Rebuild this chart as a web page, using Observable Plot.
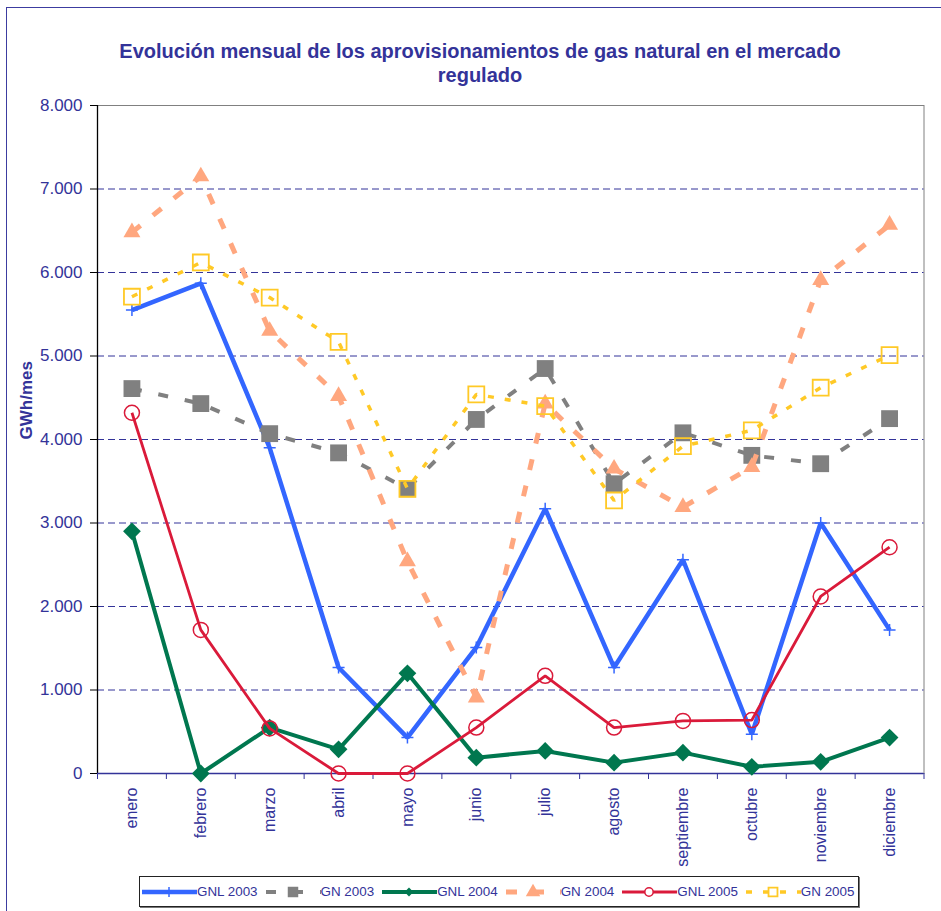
<!DOCTYPE html>
<html>
<head>
<meta charset="utf-8">
<script src="https://cdn.jsdelivr.net/npm/d3@7"></script>
<script src="https://cdn.jsdelivr.net/npm/@observablehq/plot@0.6"></script>
<style>
html, body { margin: 0; padding: 0; background: #fff; overflow: hidden; }
#wrap { position: relative; width: 941px; height: 911px; overflow: hidden; font-family: Arial, "Liberation Sans", sans-serif; background: #fff; }
#border { position: absolute; left: 6px; top: 7px; width: 1000px; height: 1000px; border-left: 1.5px solid #3c3ca0; border-top: 1.5px solid #3c3ca0; }
#title { position: absolute; left: 0; top: 39px; width: 960px; text-align: center; font-weight: bold; font-size: 20px; line-height: 24px; color: #333399; }
#chart { position: absolute; left: 0; top: 0; }
#legend { position: absolute; left: 139px; top: 876px; width: 720px; height: 31px; box-sizing: border-box; border: 1px solid #222; box-shadow: 1px 1px 0 #777; display: flex; align-items: center; padding-left: 2px; gap: 8px; }
.item { display: flex; align-items: center; font-size: 13.4px; color: #333399; white-space: nowrap; }
.item svg { display: block; }
</style>
</head>
<body>
<div id="wrap">
  <div id="border"></div>
  <div id="chart"></div>
  <div id="title">Evolución mensual de los aprovisionamientos de gas natural en el mercado<br>regulado</div>
  <div id="legend"></div>
</div>
<script>
// ---- data ----
const months = ["enero", "febrero", "marzo", "abril", "mayo", "junio", "julio", "agosto", "septiembre", "octubre", "noviembre", "diciembre"];
const yTicks = [0, 1000, 2000, 3000, 4000, 5000, 6000, 7000, 8000];
const seriesNames = ["GNL 2003", "GN 2003", "GNL 2004", "GN 2004", "GNL 2005", "GN 2005"];
const gnl2003 = [5550, 5870, 3900, 1270, 430, 1510, 3170, 1270, 2560, 470, 3000, 1720];
const gn2003  = [4610, 4430, 4070, 3840, 3410, 4240, 4850, 3470, 4080, 3810, 3710, 4250];
const gnl2004 = [2900, 0, 550, 290, 1200, 190, 270, 130, 250, 80, 140, 430];
const gn2004  = [6480, 7150, 5300, 4520, 2540, 910, 4430, 3650, 3190, 3670, 5910, 6570];
const gnl2005 = [4320, 1720, 540, 0, 0, 550, 1170, 550, 630, 640, 2120, 2710];
const gn2005  = [5710, 6120, 5700, 5170, 3410, 4540, 4400, 3270, 3920, 4110, 4620, 5010];

// ---- styles ----
const navy = "#333399";
const plusSymbol = { draw(ctx, size) { const r = Math.sqrt(size / Math.PI); ctx.moveTo(-r, 0); ctx.lineTo(r, 0); ctx.moveTo(0, -r); ctx.lineTo(0, r); } };
const styles = [
  { values: gnl2003, color: "#3366FF", width: 4.5, dash: null, symbol: plusSymbol, r: 6, filled: false, sw: 1.5, legSym: "plus" },
  { values: gn2003,  color: "#808080", width: 4, dash: "10,17", symbol: "square", r: 9.5, filled: true, sw: 0, legSym: d3.symbolSquare, legSize: 110 },
  { values: gnl2004, color: "#00774F", width: 4, dash: null, symbol: "diamond2", r: 8, filled: true, sw: 0, legSym: d3.symbolDiamond2, legSize: 50 },
  { values: gn2004,  color: "#FFA77F", width: 5, dash: "11,16", symbol: "triangle", r: 6.3, filled: true, sw: 0, legSym: d3.symbolTriangle, legSize: 90 },
  { values: gnl2005, color: "#DA1A3A", width: 2.8, dash: null, symbol: "circle", r: 7.5, filled: false, sw: 1.5, legSym: d3.symbolCircle, legSize: 55 },
  { values: gn2005,  color: "#FFC926", width: 3.5, dash: "6,11", symbol: "square", r: 9, filled: false, sw: 1.8, legSym: d3.symbolSquare, legSize: 80 }
];

const rows = months.map((m, i) => {
  const o = { i, month: m };
  styles.forEach((s, k) => { o["s" + k] = s.values[i]; });
  return o;
});

const loc = d3.formatLocale({ decimal: ",", thousands: ".", grouping: [3], currency: ["", "€"] });
const fmt = loc.format(",");
const xDomain = [-0.5, months.length - 0.5];
const idx = months.map((_, i) => i);
const bounds = months.map((_, i) => i - 0.5).concat([months.length - 0.5]);
const gridVals = yTicks.filter(v => v > yTicks[0] && v < yTicks[yTicks.length - 1]);

const marks = [
  Plot.frame({ stroke: "#808080", strokeWidth: 1 }),
  Plot.ruleY(gridVals, { stroke: navy, strokeWidth: 1, strokeDasharray: "7,4" }),
  Plot.ruleX([xDomain[0]], { stroke: "black", strokeWidth: 1.3 }),
  Plot.ruleY([yTicks[0]], { stroke: navy, strokeWidth: 1.5 }),
  Plot.axisY(yTicks, { anchor: "left", tickSize: 7, tickPadding: 8, tickFormat: fmt, fontSize: 17, fill: navy, stroke: "black", label: null }),
  Plot.axisX(idx, { anchor: "bottom", tickSize: 0, tickPadding: 14, tickRotate: -90, tickFormat: i => months[i], fontSize: 16, fill: navy, label: null }),
  Plot.axisX(bounds, { anchor: "bottom", tickSize: 6, tickFormat: () => "", stroke: navy, label: null }),
  Plot.text(["GWh/mes"], { frameAnchor: "left", dx: -71, rotate: -90, fontWeight: "bold", fontSize: 17, fill: navy })
];

styles.forEach((s, k) => {
  marks.push(Plot.line(rows, { x: "i", y: "s" + k, stroke: s.color, strokeWidth: s.width, strokeDasharray: s.dash, strokeLinecap: "butt", strokeLinejoin: "miter" }));
  marks.push(Plot.dot(rows, {
    x: "i", y: "s" + k, symbol: s.symbol, r: s.r,
    fill: s.filled ? s.color : "none",
    stroke: s.filled ? "none" : s.color,
    strokeWidth: s.sw
  }));
});

const chart = Plot.plot({
  width: 941,
  height: 870,
  marginTop: 105,
  marginBottom: 97,
  marginLeft: 97,
  marginRight: 17.5,
  style: { fontFamily: "Arial, 'Liberation Sans', sans-serif", background: "transparent", overflow: "visible" },
  x: { type: "linear", domain: xDomain },
  y: { domain: [yTicks[0], yTicks[yTicks.length - 1]] },
  marks
});
document.getElementById("chart").appendChild(chart);

// ---- legend ----
const legend = d3.select("#legend");
styles.forEach((s, k) => {
  const item = legend.append("div").attr("class", "item");
  const svg = item.append("svg").attr("width", 55).attr("height", 20);
  svg.append("line").attr("x1", 0).attr("x2", 55).attr("y1", 10).attr("y2", 10)
    .attr("stroke", s.color).attr("stroke-width", s.width)
    .attr("stroke-dasharray", s.dash).attr("stroke-linecap", "butt");
  if (s.legSym === "plus") {
    svg.append("path").attr("d", "M-4,0H4M0,-5V5").attr("transform", "translate(27,10)")
      .attr("stroke", s.color).attr("stroke-width", 1.5).attr("fill", "none");
  } else {
    svg.append("path").attr("d", d3.symbol(s.legSym, s.legSize)()).attr("transform", "translate(27,10)")
      .attr("fill", s.filled ? s.color : "#fff").attr("stroke", s.filled ? "none" : s.color).attr("stroke-width", s.sw);
  }
  item.append("span").text(seriesNames[k]);
});
</script>
</body>
</html>
